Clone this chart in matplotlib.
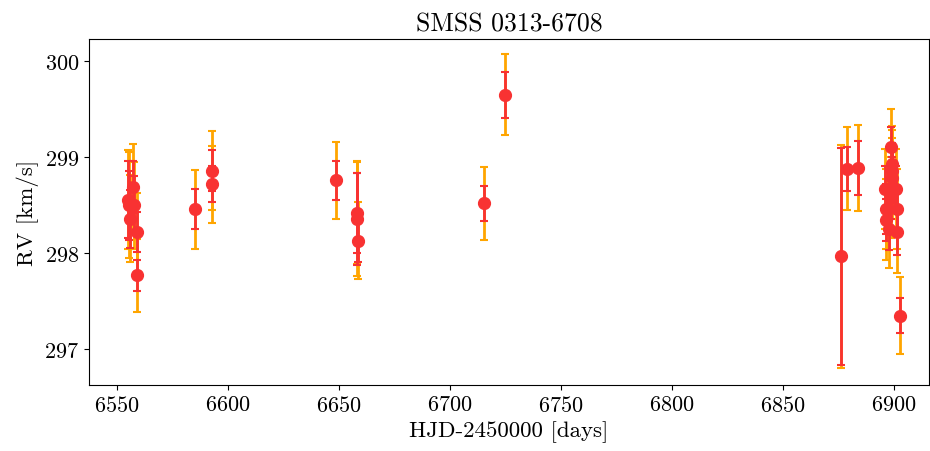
import numpy as np
import matplotlib
matplotlib.use("Agg")
import matplotlib.pyplot as plt

# HJD-2450000, RV (km/s), small (red) and large (orange) uncertainties
hjd = [6555.0, 6555.3, 6556.0, 6557.3, 6557.6, 6559.0, 6559.2,
       6585.2, 6592.9, 6593.0,
       6648.7, 6658.2, 6658.3, 6658.5,
       6715.2, 6724.6,
       6876.1, 6878.8, 6883.7,
       6896.0, 6896.2, 6896.5, 6897.7, 6898.5, 6898.8, 6898.9, 6899.0,
       6899.2, 6901.0, 6901.1, 6901.2, 6902.8]
rv = [298.56, 298.50, 298.36, 298.69, 298.50, 298.22, 297.77,
      298.46, 298.86, 298.72,
      298.76, 298.42, 298.36, 298.13,
      298.52, 299.65,
      297.97, 298.88, 298.89,
      298.67, 298.46, 298.35, 298.25, 298.58, 299.11, 298.93, 298.86,
      298.78, 298.67, 298.46, 298.22, 297.35]
err_red = [0.40, 0.36, 0.30, 0.27, 0.30, 0.21, 0.16,
           0.21, 0.21, 0.19,
           0.20, 0.42, 0.48, 0.22,
           0.18, 0.24,
           1.13, 0.23, 0.28,
           0.24, 0.26, 0.22, 0.22, 0.22, 0.20, 0.22, 0.24,
           0.22, 0.24, 0.22, 0.24, 0.18]
err_orange = [0.52, 0.55, 0.45, 0.45, 0.45, 0.41, 0.38,
              0.41, 0.41, 0.40,
              0.40, 0.53, 0.60, 0.40,
              0.38, 0.42,
              1.16, 0.43, 0.45,
              0.42, 0.42, 0.42, 0.40, 0.42, 0.39, 0.40, 0.42,
              0.42, 0.42, 0.42, 0.42, 0.40]

plt.rcParams["font.family"] = "cmr10"
plt.rcParams["mathtext.fontset"] = "cm"
plt.rcParams["axes.formatter.use_mathtext"] = True
plt.rcParams["axes.unicode_minus"] = False

fig, ax = plt.subplots(figsize=(9.3, 4.52), dpi=100)
fig.subplots_adjust(left=89/930, right=929/930, top=1-40/452, bottom=1-386/452)

ax.errorbar(hjd, rv, yerr=err_orange, fmt="none", ecolor="#ffa500",
            elinewidth=2, capsize=3, capthick=1.5)
ax.errorbar(hjd, rv, yerr=err_red, fmt="o", color="#f83232",
            ms=8.5, elinewidth=2, capsize=3, capthick=1.5)

ax.set_xlim(6537.5, 6915.7)
ax.set_ylim(296.63, 300.23)
ax.set_xticks(np.arange(6550, 6901, 50))
ax.set_yticks([297, 298, 299, 300])
ax.tick_params(labelsize=16)
ax.set_xlabel("HJD-2450000 [days]", fontsize=16.5)
ax.set_ylabel("RV [km/s]", fontsize=16.5)
ax.set_title("SMSS 0313-6708", fontsize=18.5)

fig.savefig("out.png", dpi=100)
